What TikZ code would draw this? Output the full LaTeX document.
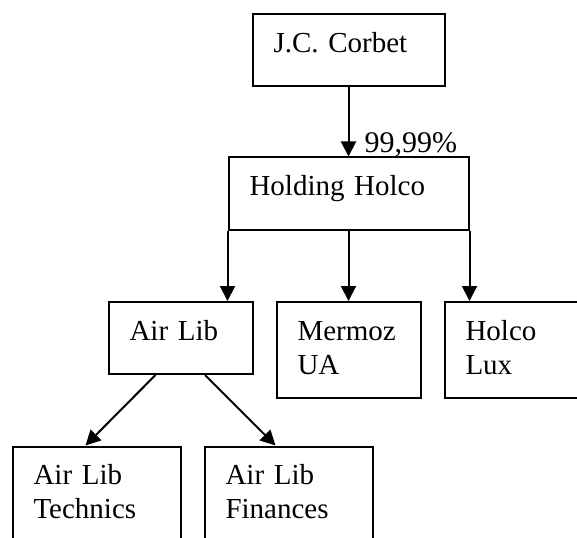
\documentclass[tikz,border=0pt]{standalone}
\usepackage{fontspec}
\setmainfont{Liberation Serif}
\usetikzlibrary{arrows.meta}
\tikzset{
  firm/.style={draw,line width=2pt,rectangle,anchor=north west,align=left,
    inner xsep=21pt,inner ysep=0pt,text height=38pt,
    font=\fontsize{29}{34.4}\selectfont},
  oneline/.style={firm,text depth=34pt},
  twoline/.style={firm,text depth=58pt},
  owns/.style={line width=2pt,-{Triangle[length=15pt,width=15pt]}},
  share/.style={font=\fontsize{30}{34}\selectfont,inner sep=0pt}
}

\begin{document}
\begin{tikzpicture}[x=1pt,y=-1pt]
    \useasboundingbox (0,0) rectangle (577,537);
    \clip (0,0) rectangle (577,537);
    % top of the group
    \node[oneline,text width=150pt] (corbet) at (251.5,13.5) {J.C. Corbet};
    \node[oneline,text width=198pt] (holding) at (227.5,156.5) {Holding Holco};
    % subsidiaries
    \node[oneline,text width=102pt] (airlib) at (107.5,301) {Air Lib};
    \node[twoline,text width=102pt] (mermoz) at (275.5,301) {Mermoz\\UA};
    \node[twoline,text width=102pt] (holcolux) at (443.5,301) {Holco\\Lux};
    \node[twoline,text width=126pt] (technics) at (11.5,445.5) {Air Lib\\Technics};
    \node[twoline,text width=126pt] (finances) at (203.5,445.5) {Air Lib\\Finances};
    % links
    \draw[owns] (corbet.south) -- (holding.north)
        node[share,pos=1,anchor=base west,xshift=15pt,yshift=3.7pt] {99,99\%};
    \draw[owns] (holding.south west) -- (holding.south west |- airlib.north);
    \draw[owns] (holding.south) -- (holding.south |- mermoz.north);
    \draw[owns] (holding.south east) -- (holding.south east |- holcolux.north);
    \draw[owns] ([xshift=-25pt]airlib.south) -- ([xshift=-11pt]technics.north);
    \draw[owns] ([xshift=24.5pt]airlib.south) -- ([xshift=-13pt]finances.north);
\end{tikzpicture}
\end{document}
